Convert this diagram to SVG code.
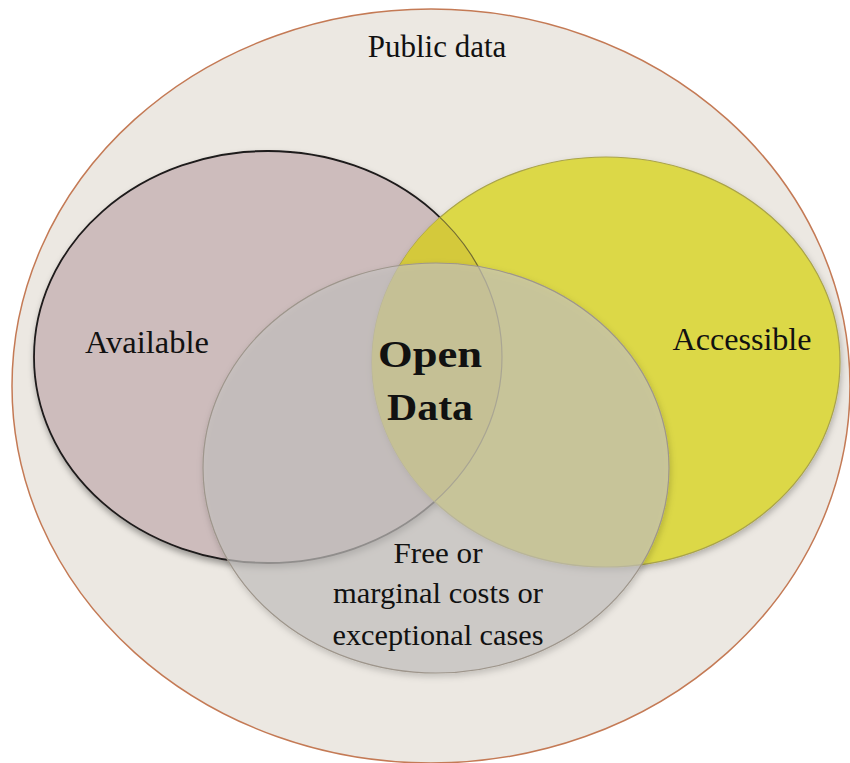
<svg xmlns="http://www.w3.org/2000/svg" width="850" height="763" viewBox="0 0 850 763">
  <defs>
    <filter id="shadow" x="-10%" y="-10%" width="120%" height="125%">
      <feDropShadow dx="1" dy="4" stdDeviation="3" flood-color="#000" flood-opacity="0.35"/>
    </filter>
    <filter id="shadowSoft" x="-10%" y="-10%" width="120%" height="125%">
      <feDropShadow dx="1" dy="3" stdDeviation="3" flood-color="#000" flood-opacity="0.25"/>
    </filter>
    <clipPath id="clipYellow">
      <ellipse cx="606" cy="362" rx="234" ry="205"/>
    </clipPath>
  </defs>
  <style>
    .lbl { font-family: "Liberation Serif", "DejaVu Serif", serif; fill: #111; text-anchor: middle; }
    .reg { font-size: 31px; }
    .small { font-size: 29px; }
    .bold { font-size: 38px; font-weight: bold; }
  </style>
  <rect width="850" height="763" fill="#ffffff"/>

  <g id="public-data">
    <ellipse cx="431" cy="386" rx="419" ry="377" fill="#ece8e2" stroke="#c47a55" stroke-width="1.5"/>
    <text class="lbl reg" x="437" y="57">Public data</text>
  </g>

  <g id="available">
    <ellipse cx="268" cy="357" rx="234" ry="206" fill="#cdbcbc" stroke="#1e1a1a" stroke-width="1.8" filter="url(#shadow)"/>
  </g>

  <g id="accessible">
    <ellipse cx="606" cy="362" rx="234" ry="205" fill="#dcd846" stroke="#a9a34a" stroke-width="1.2" filter="url(#shadowSoft)"/>
    <ellipse cx="268" cy="357" rx="234" ry="206" fill="#d4c93b" clip-path="url(#clipYellow)"/>
    <ellipse cx="268" cy="357" rx="234" ry="206" fill="none" stroke="#5a5430" stroke-width="1.2" clip-path="url(#clipYellow)" opacity="0.8"/>
  </g>

  <g id="free">
    <ellipse cx="436" cy="468" rx="233" ry="205" fill="#c6c3c2" fill-opacity="0.65" stroke="#9e968c" stroke-width="1.2" filter="url(#shadowSoft)"/>
  </g>

  <g id="labels">
    <text class="lbl reg" x="147" y="353" textLength="124" lengthAdjust="spacingAndGlyphs">Available</text>
    <text class="lbl reg" x="742" y="350" textLength="139" lengthAdjust="spacingAndGlyphs">Accessible</text>
    <text class="lbl bold" x="430" y="367" textLength="104" lengthAdjust="spacingAndGlyphs">Open</text>
    <text class="lbl bold" x="430" y="420" textLength="86" lengthAdjust="spacingAndGlyphs">Data</text>
    <text class="lbl small" x="438" y="563" textLength="89" lengthAdjust="spacingAndGlyphs">Free or</text>
    <text class="lbl small" x="438" y="603" textLength="210" lengthAdjust="spacingAndGlyphs">marginal costs or</text>
    <text class="lbl small" x="438" y="645" textLength="211" lengthAdjust="spacingAndGlyphs">exceptional cases</text>
  </g>

  <g id="connectors"/>
</svg>
